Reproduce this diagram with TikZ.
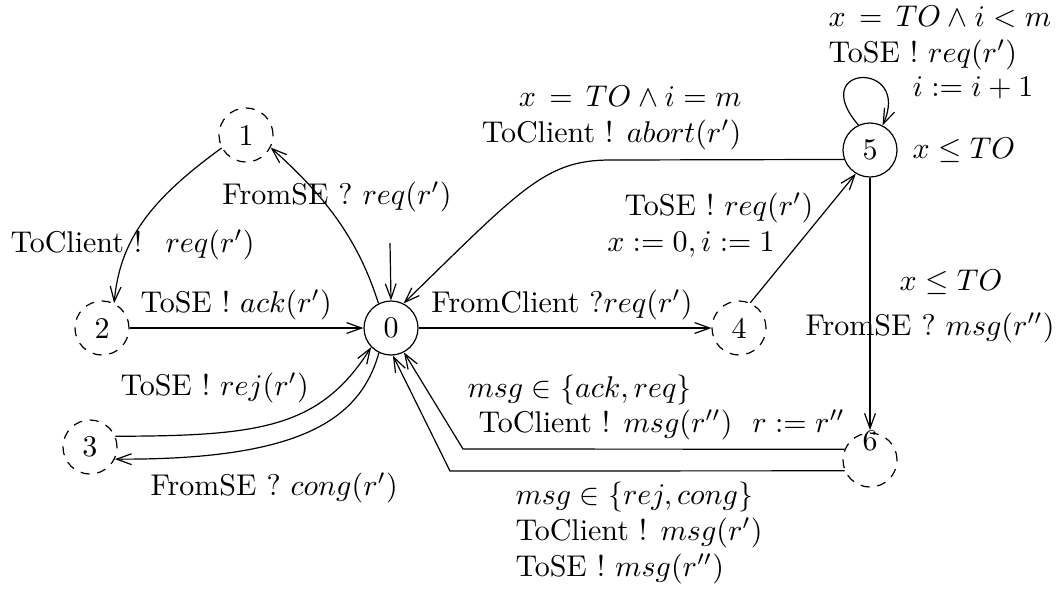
\documentclass[tikz,border=0pt]{standalone}
\usetikzlibrary{arrows.meta}
\begin{document}
\begin{tikzpicture}[x=0.3333pt,y=-0.3333pt,
  >={Straight Barb[length=5pt,width=3.6pt]},
  every path/.style={line width=0.4pt},
  st/.style={circle,draw,minimum size=18pt,inner sep=0pt},
  dst/.style={circle,draw,dash pattern=on 3pt off 2.6pt,minimum size=18pt,inner sep=0pt},
  lbl/.style={inner sep=0pt}]
\useasboundingbox (0,0) rectangle (1059,592);
% states
\node[st]  (n0) at (391,328) {0};
\node[dst] (n1) at (246,135) {1};
\node[dst] (n2) at (102,328) {2};
\node[dst] (n3) at (90,447) {3};
\node[dst] (n4) at (739,328) {4};
\node[st]  (n5) at (870,150) {5};
\node[dst] (n6) at (870,460) {};
\node[lbl] (n6t) at (870,441) {6};
\coordinate (init) at (390,243);
% edges
\draw[->] (init) -- (n0.90);
\draw[->] (n0.117) .. controls (360,245) and (330,200) .. (n1.333);
\draw[->] (n1.208) .. controls (150,200) and (120,240) .. (n2.64);
\draw[->] (n2) -- (n0);
\draw[->] (n0) -- (n4);
\draw[->] (n4.66) -- (n5.239);
\draw[->] (n5.200) -- (610,160) .. controls (545,160) and (520,190) .. (n0.63);
\draw[->] (n5.115) .. controls (806,64) and (912,60) .. (n5.63);
\draw[->] (n5.south) -- (n6t.north);
\draw[->] (n6.157) -- (463,449) -- (n0.298);
\draw[->] (n6.203) -- (450,471) -- (n0.274);
\draw[->] (n3.23) .. controls (260,436) and (320,428) .. (n0.224);
\draw[->] (n0.244) .. controls (360,420) and (300,460) .. (n3.334);
% labels
\node[lbl] (l01) at (337,197) {FromSE ? $req(r')$};
\node[lbl,anchor=west] (l12) at (10,245) {ToClient ! \ $req(r')$};
\node[lbl,anchor=west] (l20) at (140,305) {ToSE ! $ack(r')$};
\node[lbl,anchor=west] (l30) at (120,388) {ToSE ! $rej(r')$};
\node[lbl,anchor=west] (l03) at (150,488) {FromSE ? $cong(r')$};
\node[lbl,anchor=east,align=right] (l50) at (742,118) {$x\,=\,TO\wedge i=m$\\ToClient ! $abort(r')$};
\node[lbl] (l45a) at (719,208) {ToSE ! $req(r')$};
\node[lbl] (l45b) at (691,245) {$x:=0,i:=1$};
\node[lbl] (l04) at (562,305) {FromClient ?$req(r')$};
\node[lbl,anchor=west,align=left] (l55a) at (828,38) {$x\,=\,TO\wedge i<m$\\ToSE ! $req(r')$};
\node[lbl,anchor=west] (l55b) at (912,88) {$i:=i+1$};
\node[lbl,anchor=west] (inv5) at (912,150) {$x\le TO$};
\node[lbl] (l56a) at (951,282) {$x\le TO$};
\node[lbl] (l56b) at (930,328) {FromSE ? $msg(r'')$};
\node[lbl,anchor=west] (l60a) at (467,390) {$msg\in\{ack,req\}$};
\node[lbl,anchor=west] (l60b) at (478,425) {ToClient ! $msg(r'')$\ \ $r:=r''$};
\node[lbl,anchor=west,align=left] (l60c) at (515,533) {$msg\in\{rej,cong\}$\\ToClient ! $msg(r')$\\ToSE ! $msg(r'')$};
\end{tikzpicture}
\end{document}
